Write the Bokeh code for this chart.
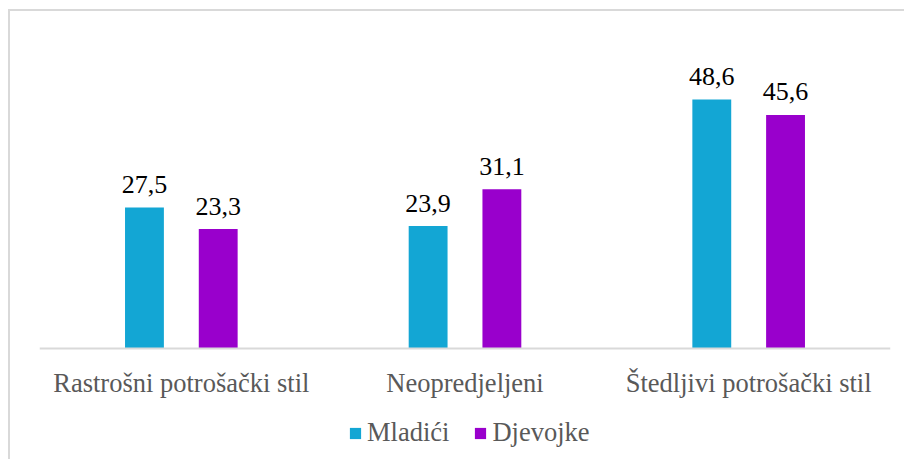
from bokeh.plotting import figure
from bokeh.models import ColumnDataSource, FactorRange, Legend, LegendItem, Range1d
from bokeh.transform import dodge
from bokeh.core.properties import value
from bokeh.embed import file_html
from bokeh.resources import INLINE

categories = ["Rastrošni potrošački stil", "Neopredjeljeni", "Štedljivi potrošački stil"]
mladici = [27.5, 23.9, 48.6]
djevojke = [23.3, 31.1, 45.6]
series_names = ["Mladići", "Djevojke"]

def fmt(v):
    return f"{v:.1f}".replace(".", ",")

src = ColumnDataSource(data=dict(
    cat=categories,
    m=mladici,
    d=djevojke,
    m_lab=[fmt(v) for v in mladici],
    d_lab=[fmt(v) for v in djevojke],
))

SERIF = "Liberation Serif"
BLUE = "#13a6d4"
PURPLE = "#9900cc"

p = figure(x_range=FactorRange(*categories), y_range=Range1d(-21.9, 62.1),
           width=896, height=450, output_backend="svg", toolbar_location=None,
           min_border_left=29, min_border_right=16, min_border_top=19, min_border_bottom=1)
p.margin = (9, 0, 0, 8)
p.styles = {"border-top": "2px solid #d9d9d9", "border-left": "2px solid #d9d9d9"}

w = 0.137
off = 0.13
r1 = p.vbar(x=dodge("cat", -off, range=p.x_range), top="m", bottom=0, width=w, source=src,
            fill_color=BLUE, line_color=None)
r2 = p.vbar(x=dodge("cat", off, range=p.x_range), top="d", bottom=0, width=w, source=src,
            fill_color=PURPLE, line_color=None)

for col, lab, o in (("m", "m_lab", -off), ("d", "d_lab", off)):
    p.text(x=dodge("cat", o, range=p.x_range), y=col, text=lab, source=src,
           text_align="center", text_baseline="alphabetic", y_offset=-23,
           text_font=value(SERIF), text_font_size="26px", text_color="#000000")

p.yaxis.visible = False
p.xgrid.grid_line_color = None
p.ygrid.grid_line_color = None
p.outline_line_color = None
p.xaxis.fixed_location = 0
p.xaxis.axis_line_color = "#d9d9d9"
p.xaxis.axis_line_width = 2
p.xaxis.major_tick_line_color = None
p.xaxis.minor_tick_line_color = None
p.xaxis.major_label_standoff = 14
p.xaxis.major_label_text_font = SERIF
p.xaxis.major_label_text_font_size = "26.5px"
p.xaxis.major_label_text_color = "#595959"

legend = Legend(items=[LegendItem(label=series_names[0], renderers=[r1]),
                       LegendItem(label=series_names[1], renderers=[r2])],
                orientation="horizontal", location=(309, 12),
                glyph_width=14, glyph_height=14, label_standoff=5, spacing=24,
                label_text_font=SERIF, label_text_font_size="26.5px",
                label_text_color="#595959", border_line_color=None,
                padding=0, margin=0, background_fill_alpha=0)
p.add_layout(legend, "center")

open("out.html", "w").write(file_html(p, INLINE))
